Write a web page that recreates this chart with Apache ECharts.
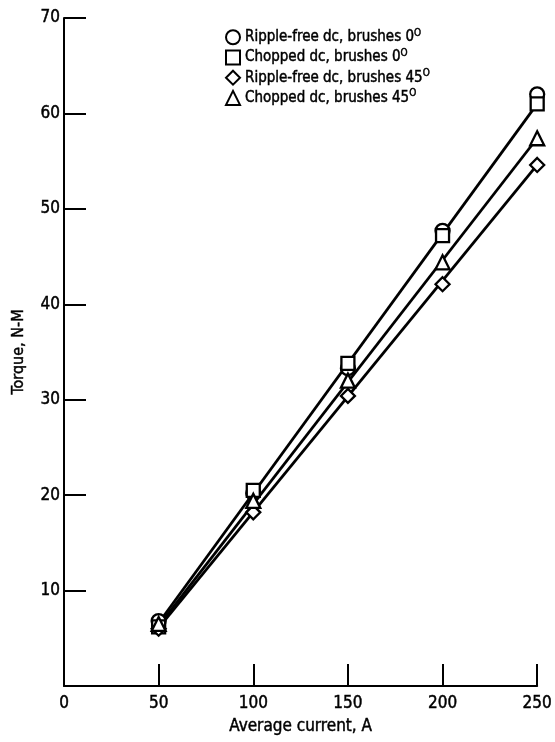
<!DOCTYPE html>
<html>
<head>
<meta charset="utf-8">
<script src="https://cdn.jsdelivr.net/npm/echarts@6/dist/echarts.min.js"></script>
<style>
  html, body { margin: 0; padding: 0; background: #fff; }
  #chart { width: 555px; height: 742px; }
</style>
</head>
<body>
<div id="chart"></div>
<script>
// Measured torque versus average armature current
const currents = [50, 100, 150, 200, 250];
const rippleFree0 = [6.8, 20.2, 33.3, 47.7, 62.0];
const chopped0 = [6.2, 20.5, 33.8, 47.2, 61.0];
const rippleFree45 = [6.0, 18.2, 30.4, 42.1, 54.6];
const chopped45 = [6.5, 19.4, 32.0, 44.4, 57.4];

// Faired straight lines (end points only)
const fitCurrents = [50, 250];
const fitBrushes0 = [6.6, 61.0];
const fitChopped45 = [6.3, 57.4];
const fitRipple45 = [6.1, 54.6];

const xTicks = [0, 50, 100, 150, 200, 250];
const yTicks = [0, 10, 20, 30, 40, 50, 60, 70];

const FONT = "'DejaVu Sans Condensed', 'Liberation Sans Narrow', sans-serif";
const INK = '#000';
// thin outline gives the lettering a heavier, inked look
const inked = { color: INK, textBorderColor: INK, textBorderWidth: 0.45 };

const pairs = (xs, ys) => xs.map((x, i) => [x, ys[i]]);

const markerStyle = { color: '#fff', borderColor: INK, borderWidth: 2.3, opacity: 1 };

function pointSeries(name, symbol, values, size) {
  return {
    name, type: 'scatter', symbol, symbolSize: size,
    data: pairs(currents, values),
    itemStyle: markerStyle, z: 5
  };
}

function lineSeries(values) {
  return {
    type: 'line', data: pairs(fitCurrents, values),
    symbol: 'none', silent: true,
    lineStyle: { color: INK, width: 2.8 }, z: 3
  };
}

const chart = echarts.init(document.getElementById('chart'));
chart.setOption({
  animation: false,
  backgroundColor: '#fff',
  grid: { left: 64, right: 17, top: 18, bottom: 56 },
  legend: {
    orient: 'vertical', left: 220, top: 23,
    itemWidth: 14, itemHeight: 14, itemGap: 3,
    data: ['Ripple-free dc, brushes 0', 'Chopped dc, brushes 0',
           'Ripple-free dc, brushes 45', 'Chopped dc, brushes 45'],
    formatter: name => name + '{sup|O}',
    textStyle: Object.assign({
      fontFamily: FONT, fontSize: 15,
      rich: { sup: Object.assign({ fontFamily: FONT, fontSize: 10, padding: [0, 0, 8, 0] }, inked) }
    }, inked)
  },
  xAxis: {
    type: 'value', min: 0, max: 250, interval: 50,
    name: 'Average current, A', nameLocation: 'middle', nameGap: 32,
    nameTextStyle: Object.assign({ fontFamily: FONT, fontSize: 17 }, inked),
    axisLine: { lineStyle: { color: INK, width: 2 } },
    axisTick: { inside: true, length: 22, lineStyle: { color: INK, width: 2 } },
    axisLabel: Object.assign({ fontFamily: FONT, fontSize: 17, margin: 9,
                 formatter: v => xTicks.includes(v) ? String(v) : '' }, inked),
    splitLine: { show: false }
  },
  yAxis: {
    type: 'value', min: 0, max: 70, interval: 10,
    name: 'Torque, N-M', nameLocation: 'middle', nameGap: 37, nameRotate: 90,
    nameTextStyle: Object.assign({ fontFamily: FONT, fontSize: 16 }, inked),
    axisLine: { show: true, lineStyle: { color: INK, width: 2 } },
    axisTick: { show: true, inside: true, length: 22, lineStyle: { color: INK, width: 2 } },
    axisLabel: Object.assign({ fontFamily: FONT, fontSize: 17, margin: 4,
                 formatter: v => (v === 0 || !yTicks.includes(v)) ? '' : String(v) }, inked),
    splitLine: { show: false }
  },
  series: [
    lineSeries(fitBrushes0),
    lineSeries(fitChopped45),
    lineSeries(fitRipple45),
    pointSeries('Ripple-free dc, brushes 0', 'circle', rippleFree0, 14),
    pointSeries('Chopped dc, brushes 0', 'rect', chopped0, 13),
    pointSeries('Ripple-free dc, brushes 45', 'diamond', rippleFree45, 14),
    pointSeries('Chopped dc, brushes 45', 'triangle', chopped45, 14)
  ]
});
</script>
</body>
</html>
